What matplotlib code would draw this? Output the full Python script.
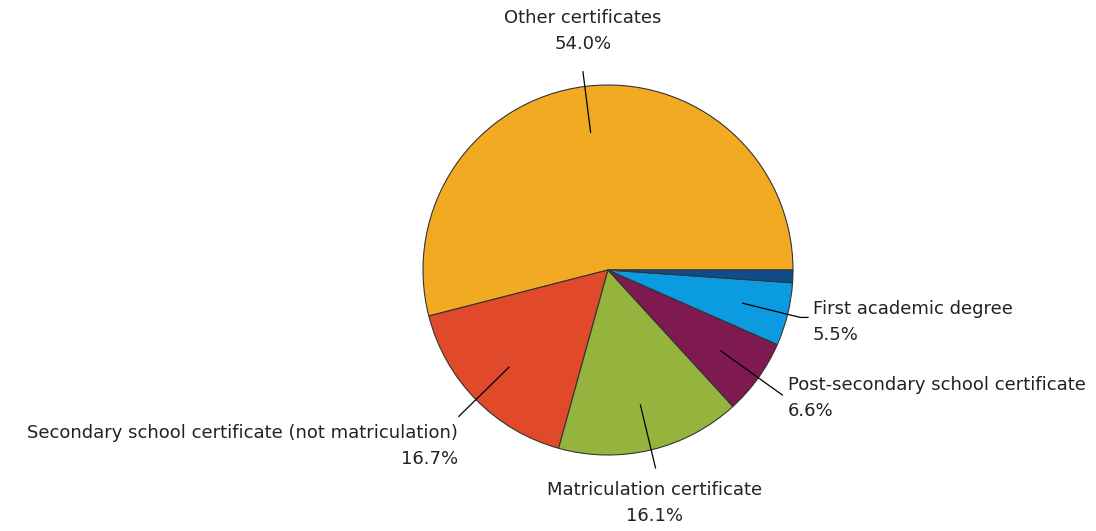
import numpy as np
import matplotlib.pyplot as plt

# share of each certificate type (%)
labels = ['Other certificates', 'Secondary school certificate (not matriculation)',
          'Matriculation certificate', 'Post-secondary school certificate',
          'First academic degree', '']
shares = [54.0, 16.7, 16.1, 6.6, 5.5, 1.1]
colors = ['#F2AA22', '#E04A2A', '#95B43E', '#7E1A50', '#0A9BE0', '#0E4C8C']

fig = plt.figure(figsize=(10.96, 5.31), dpi=100)
ax = fig.add_axes([0, 0, 1, 1])

cx, cy, r = 608, 261, 185
wedges, _ = ax.pie(shares, colors=colors, startangle=0, counterclock=True,
                   center=(cx, cy), radius=r, frame=True,
                   wedgeprops=dict(edgecolor='#333333', linewidth=0.8))
ax.set_xlim(0, 1096)
ax.set_ylim(0, 531)
ax.set_aspect('equal')
ax.axis('off')

# label text position (x, y, ha) and outer end of leader line
label_pos = {
    0: (583, 522, 'center', 1.08),
    1: (458, 107, 'right', 1.13),
    2: (655, 50, 'center', 1.10),
    3: (788, 155, 'left', 1.16),
    4: (813, 231, 'left', 1.07),
}
for i, (tx, ty, ha, r_out) in label_pos.items():
    w = wedges[i]
    ang = np.deg2rad((w.theta1 + w.theta2) / 2)
    x0, y0 = cx + 0.75 * r * np.cos(ang), cy + 0.75 * r * np.sin(ang)
    x1, y1 = cx + r_out * r * np.cos(ang), cy + r_out * r * np.sin(ang)
    pts_x, pts_y = [x0, x1], [y0, y1]
    if i == 4:
        pts_x.append(808)
        pts_y.append(y1)
    ax.plot(pts_x, pts_y, color='black', lw=0.9)
    ax.text(tx, ty, f'{labels[i]}\n{shares[i]:.1f}%', ha=ha, va='top',
            fontsize=13, color='#222222', linespacing=1.6,
            multialignment='center' if ha == 'center' else ha)

fig.savefig('out.png', dpi=100)
